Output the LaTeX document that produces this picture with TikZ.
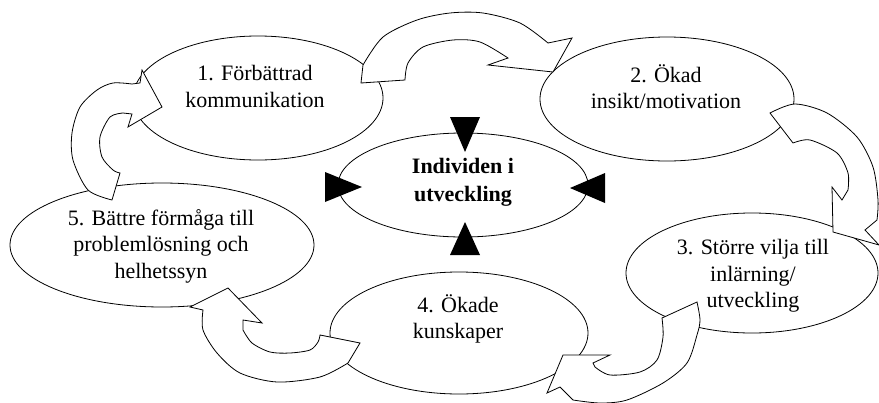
\documentclass[tikz,border=0pt]{standalone}
\usepackage{fontspec}
\setmainfont{Liberation Serif}
\usetikzlibrary{shapes.geometric}

\begin{document}
\begin{tikzpicture}[x=1pt,y=-1pt,
    bubble/.style={draw,ellipse,fill=white,line width=0.8pt,inner sep=0pt},
    bubtext/.style={align=center,font=\fontsize{22}{26.5}\selectfont},
    curvarrow/.style={draw,fill=white,line width=0.8pt,line join=miter},
    pointer/.style={fill=black}]
       \useasboundingbox (0,0) rectangle (879,402);
       \node[bubble,minimum width=250,minimum height=124] (e1) at (258,98) {};
       \node[bubble,minimum width=254,minimum height=124] (e2) at (667,99) {};
       \node[bubble,minimum width=252,minimum height=120] (e3) at (752,273) {};
       \node[bubble,minimum width=258,minimum height=122] (e4) at (459,333) {};
       \node[bubble,minimum width=304,minimum height=124] (e5) at (162,245) {};
       \node[bubble,minimum width=250,minimum height=104] (ec) at (463,185) {};
       \draw[curvarrow] (361,83) -- plot[smooth] coordinates {(363,65) (383,37)
         (417,20) (450,13) (483,13) (520,23) (548,43)} -- (572,38) -- (553,72) --
         (488,65) -- plot[smooth] coordinates {(508,58) (480,42) (453,40) (423,47)
         (408,63) (405,80)} -- cycle;
       \draw[curvarrow] (793,143) -- (770,113) -- plot[smooth] coordinates {(770,113)
         (795,104) (827,113) (857,137) (873,167) (878,200) (877,220)} -- (865,230) --
         (879,245) -- (833,232) -- (832,187) -- (842,200) -- plot[smooth]
         coordinates {(848,190) (848,173) (837,153) (810,140) (793,143)} -- cycle;
       \draw[curvarrow] (662,318) -- (697,302) -- plot[smooth] coordinates {(697,302)
         (700,320) (697,335) (687,363) (663,383) (627,400) (600,403) (573,400)} --
         (560,387) -- (547,393) -- (563,355) -- (610,355) -- (593,363) --
         plot[smooth] coordinates {(595,367) (610,375) (640,372) (657,360)
         (663,337) (662,318)} -- cycle;
       \draw[curvarrow] (320,335) -- (360,343) -- (348,363) -- plot[smooth]
         coordinates {(348,363) (320,377) (277,382) (240,373) (217,353) (203,330)
         (203,310)} -- (190,307) -- (228,288) -- (262,323) -- (243,320) --
         plot[smooth] coordinates {(243,330) (252,343) (270,352) (290,353)
         (310,350) (318,342) (320,335)} -- cycle;
       \draw[curvarrow] (120,173) -- (112,200) -- plot[smooth] coordinates {(112,200)
         (88,190) (73,160) (72,133) (80,107) (97,90) (113,83) (132,84)} --
         (140,83) -- (142,70) -- (162,107) -- (128,127) -- (132,114) --
         plot[smooth] coordinates {(123,113) (110,117) (100,137) (102,157)
         (113,170) (120,173)} -- cycle;
       \fill[pointer] (450,117) -- (480,117) -- (465,152) -- cycle;
       \fill[pointer] (450,255) -- (480,255) -- (465,222) -- cycle;
       \fill[pointer] (325,172) -- (325,202) -- (362,187) -- cycle;
       \fill[pointer] (605,173) -- (605,203) -- (570,188) -- cycle;
       \node[bubtext] (t1) at (255,86.5) {1. Förbättrad\\kommunikation};
       \node[bubtext] (t2) at (666,86.5) {2. Ökad\\insikt/motivation};
       \node[bubtext] (t3) at (753,276) {3. Större vilja till\\inlärning/\\utveckling};
       \node[bubtext] (t4) at (458,319) {4. Ökade\\kunskaper};
       \node[bubtext] (t5) at (161,246) {5. Bättre förmåga till\\problemlösning och\\helhetssyn};
       \node[bubtext,font=\fontsize{22}{28}\selectfont\bfseries] (tc) at (463,182.5) {Individen i\\utveckling};
      \end{tikzpicture}
\end{document}
